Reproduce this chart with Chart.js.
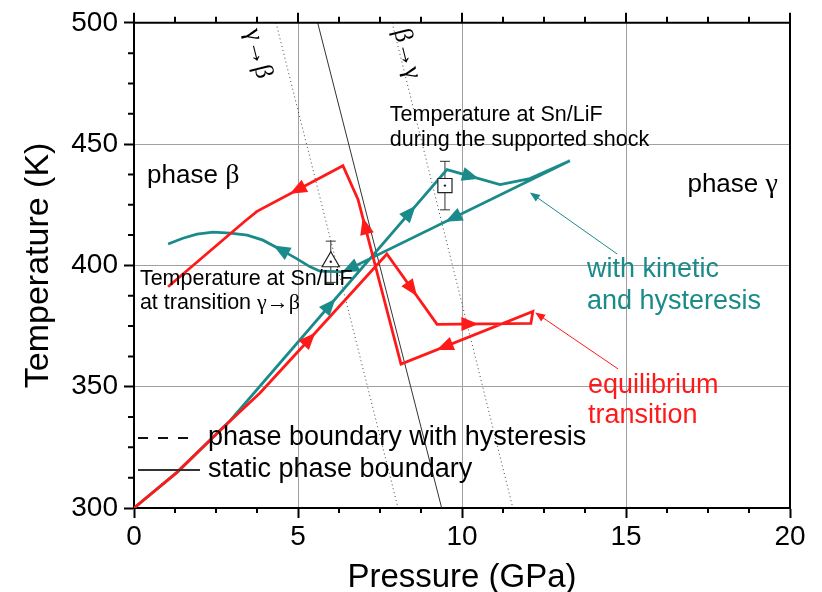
<!DOCTYPE html>
<html>
<head>
<meta charset="utf-8">
<script src="https://cdn.jsdelivr.net/npm/chart.js@4.4.1/dist/chart.umd.min.js"></script>
<style>
    body { margin: 0; background: #fff; }
    #wrap { width: 822px; height: 592px; }
</style>
</head>
<body>
<div id="wrap"><canvas id="sn-chart" width="822" height="592"></canvas></div>
<script>
const SANS = '"Liberation Sans", Arial, sans-serif';
const SERIF = '"Liberation Serif", "Times New Roman", serif';
const RED = '#ff1a1a';
const TEAL = '#1a8a8a';

// tick labels
const xTicks = [0, 5, 10, 15, 20];
const yTicks = [300, 350, 400, 450, 500];

// equilibrium transition (red path, in drawing order)
const redP = [0, 1.31, 2.62, 3.84, 5.43, 7.71, 9.24, 12.10, 12.16, 8.14, 6.83, 6.37, 3.75, 3.38, 1.04];
const redT = [300, 314.7, 331.9, 347.4, 370.8, 404.7, 375.7, 376.1, 381.0, 359.3, 427.2, 441.1, 422.3, 418.2, 391.2];
// [segment index, fraction along segment]
const redArrows = [[3, 0.95], [5, 0.5], [6, 0.35], [8, 0.67], [9, 0.84], [11, 0.53]];

// with kinetic and hysteresis (teal path)
const tealP = [0, 1.31, 2.93, 9.54, 11.16, 12.07, 13.29, 6.37, 5.67, 5.37, 4.97, 4.45, 3.93, 3.45, 2.93, 2.41, 1.92, 1.49, 1.04];
const tealT = [300, 314.7, 336.0, 439.5, 433.3, 435.8, 443.1, 397.3, 397.6, 399.4, 402.7, 406.7, 410.4, 412.5, 413.3, 413.7, 412.9, 411.2, 408.8];
const tealArrows = [[2, 0.46], [2, 0.83], [3, 0.45], [6, 0.515], [6, 0.97], [10, 0.95]];

// phase boundaries
const staticP = [5.6, 9.38];
const staticT = [500, 300];
const gammaBetaP = [4.33, 8.05];   // γ→β with hysteresis
const gammaBetaT = [500, 300];
const betaGammaP = [7.87, 11.55];  // β→γ with hysteresis
const betaGammaT = [500, 300];

// measured temperature at Sn/LiF
const triP = [6.0];
const triT = [401.5];
const triErr = [8.5];
const sqP = [9.48];
const sqT = [432.9];
const sqErr = [10];

function toXY(ps, ts) {
    return ps.map((p, i) => ({ x: p, y: ts[i] }));
}

function arrowHead(ctx, x, y, ang, len, half, color) {
    const c = Math.cos(ang), s = Math.sin(ang);
    ctx.save();
    ctx.fillStyle = color;
    ctx.beginPath();
    ctx.moveTo(x + c * len / 2, y + s * len / 2);
    ctx.lineTo(x - c * len / 2 - s * half, y - s * len / 2 + c * half);
    ctx.lineTo(x - c * len / 2 + s * half, y - s * len / 2 - c * half);
    ctx.closePath();
    ctx.fill();
    ctx.restore();
}

// text made of pieces in different fonts
function drawParts(ctx, x, y, parts, align, color) {
    let total = 0;
    parts.forEach(pt => { ctx.font = pt[2] + 'px ' + pt[1]; total += ctx.measureText(pt[0]).width; });
    let cx = align === 'right' ? x - total : (align === 'center' ? x - total / 2 : x);
    ctx.fillStyle = color || '#000';
    ctx.textBaseline = 'middle';
    ctx.textAlign = 'left';
    parts.forEach(pt => {
        ctx.font = pt[2] + 'px ' + pt[1];
        ctx.fillText(pt[0], cx, y);
        cx += ctx.measureText(pt[0]).width;
    });
}

const notes = [
    { p: 0.40, t: 437.0, align: 'left', parts: [['phase ', SANS, 26], ['β', SERIF, 28]] },
    { p: 19.63, t: 433.3, align: 'right', parts: [['phase ', SANS, 26], ['γ', SERIF, 28]] },
    { p: 7.8, t: 462.0, align: 'left', parts: [['Temperature at Sn/LiF', SANS, 21.5]] },
    { p: 7.8, t: 451.7, align: 'left', parts: [['during the supported shock', SANS, 21.5]] },
    { p: 0.18, t: 394.5, align: 'left', parts: [['Temperature at Sn/LiF', SANS, 21.5]] },
    { p: 0.18, t: 384.3, align: 'left', parts: [['at transition ', SANS, 21.5], ['γ→β', SERIF, 22]] },
    { p: 13.81, t: 398.2, align: 'left', parts: [['with kinetic', SANS, 27]], color: TEAL },
    { p: 13.81, t: 385.1, align: 'left', parts: [['and hysteresis', SANS, 27]], color: TEAL },
    { p: 13.84, t: 350.3, align: 'left', parts: [['equilibrium', SANS, 27]], color: RED },
    { p: 13.84, t: 338.0, align: 'left', parts: [['transition', SANS, 27]], color: RED }
];

// labels along the dotted boundaries
const boundaryLabels = [
    { p: 3.78, t: 487.3, text: 'γ→β' },
    { p: 8.32, t: 487.3, text: 'β→γ' }
];

// thin pointer arrows from the captions to the curves
const pointers = [
    { from: [14.73, 404.7], to: [12.07, 430.1], color: TEAL },
    { from: [14.76, 357.3], to: [12.23, 380.6], color: RED }
];

const decorPlugin = {
    id: 'decor',
    beforeDatasetsDraw(chart) {
        const ctx = chart.ctx, xs = chart.scales.x, ys = chart.scales.y;
        // error bars
        const bars = [[triP, triT, triErr], [sqP, sqT, sqErr]];
        ctx.save();
        ctx.strokeStyle = '#333';
        ctx.lineWidth = 1;
        bars.forEach(([ps, ts, es]) => {
            ps.forEach((p, i) => {
                const x = xs.getPixelForValue(p);
                const y1 = ys.getPixelForValue(ts[i] + es[i]);
                const y2 = ys.getPixelForValue(ts[i] - es[i]);
                ctx.beginPath();
                ctx.moveTo(x, y1); ctx.lineTo(x, y2);
                ctx.moveTo(x - 5, y1); ctx.lineTo(x + 5, y1);
                ctx.moveTo(x - 5, y2); ctx.lineTo(x + 5, y2);
                ctx.stroke();
            });
        });
        ctx.restore();
    },
    afterDatasetsDraw(chart) {
        const ctx = chart.ctx, xs = chart.scales.x, ys = chart.scales.y;
        const area = chart.chartArea;

        // arrowheads along the paths
        chart.data.datasets.forEach((ds, i) => {
            if (!ds.arrows) return;
            const pts = chart.getDatasetMeta(i).data;
            ds.arrows.forEach(([seg, f]) => {
                const a = pts[seg], b = pts[seg + 1];
                const x = a.x + (b.x - a.x) * f, y = a.y + (b.y - a.y) * f;
                arrowHead(ctx, x, y, Math.atan2(b.y - a.y, b.x - a.x), 17, 7, ds.borderColor);
            });
        });

        // centre dots of the markers
        ctx.save();
        ctx.fillStyle = '#222';
        [[triP, triT], [sqP, sqT]].forEach(([ps, ts]) => {
            ps.forEach((p, i) => {
                ctx.beginPath();
                ctx.arc(xs.getPixelForValue(p), ys.getPixelForValue(ts[i]), 1.2, 0, Math.PI * 2);
                ctx.fill();
            });
        });
        ctx.restore();

        // pointer arrows
        pointers.forEach(pt => {
            const x1 = xs.getPixelForValue(pt.from[0]), y1 = ys.getPixelForValue(pt.from[1]);
            const x2 = xs.getPixelForValue(pt.to[0]), y2 = ys.getPixelForValue(pt.to[1]);
            const ang = Math.atan2(y2 - y1, x2 - x1);
            ctx.save();
            ctx.strokeStyle = pt.color;
            ctx.lineWidth = 1;
            ctx.beginPath();
            ctx.moveTo(x1, y1);
            ctx.lineTo(x2 - Math.cos(ang) * 6, y2 - Math.sin(ang) * 6);
            ctx.stroke();
            ctx.restore();
            arrowHead(ctx, x2 - Math.cos(ang) * 5, y2 - Math.sin(ang) * 5, ang, 10, 4, pt.color);
        });

        // captions
        ctx.save();
        notes.forEach(n => {
            drawParts(ctx, xs.getPixelForValue(n.p), ys.getPixelForValue(n.t), n.parts, n.align, n.color);
        });
        ctx.restore();

        // rotated boundary labels, following the dotted lines
        const slope = Math.atan2(
            ys.getPixelForValue(gammaBetaT[1]) - ys.getPixelForValue(gammaBetaT[0]),
            xs.getPixelForValue(gammaBetaP[1]) - xs.getPixelForValue(gammaBetaP[0]));
        boundaryLabels.forEach(b => {
            ctx.save();
            ctx.translate(xs.getPixelForValue(b.p), ys.getPixelForValue(b.t));
            ctx.rotate(slope);
            ctx.font = '26px ' + SERIF;
            ctx.fillStyle = '#000';
            ctx.textAlign = 'center';
            ctx.textBaseline = 'middle';
            ctx.fillText(b.text, 0, 0);
            ctx.restore();
        });

        // legend inside the plot
        ctx.save();
        ctx.lineWidth = 2;
        ctx.strokeStyle = '#111';
        ctx.setLineDash([10, 10]);
        ctx.beginPath();
        ctx.moveTo(area.left + 4, area.bottom - 70);
        ctx.lineTo(area.left + 64, area.bottom - 70);
        ctx.stroke();
        ctx.setLineDash([]);
        ctx.strokeStyle = '#333';
        ctx.beginPath();
        ctx.moveTo(area.left + 4, area.bottom - 38);
        ctx.lineTo(area.left + 66, area.bottom - 38);
        ctx.stroke();
        ctx.restore();
        drawParts(ctx, area.left + 74, area.bottom - 70, [['phase boundary with hysteresis', SANS, 27]], 'left');
        drawParts(ctx, area.left + 74, area.bottom - 38, [['static phase boundary', SANS, 27]], 'left');
    },
    afterDraw(chart) {
        const ctx = chart.ctx, xs = chart.scales.x, ys = chart.scales.y;
        const area = chart.chartArea;
        ctx.save();
        ctx.strokeStyle = '#000';
        ctx.lineWidth = 2;
        // top and right frame
        ctx.beginPath();
        ctx.moveTo(area.left - 1, area.top);
        ctx.lineTo(area.right, area.top);
        ctx.lineTo(area.right, area.bottom + 1);
        ctx.stroke();
        // minor ticks (bottom, top) and major ticks on top
        ctx.beginPath();
        for (let v = xs.min; v <= xs.max + 1e-6; v += 1.25) {
            const x = xs.getPixelForValue(v);
            const major = Math.abs(v % 5) < 1e-6;
            if (!major) {
                ctx.moveTo(x, area.bottom); ctx.lineTo(x, area.bottom + 5);
            }
            ctx.moveTo(x, area.top); ctx.lineTo(x, area.top - (major ? 10 : 6));
        }
        for (let v = ys.min; v <= ys.max + 1e-6; v += 12.5) {
            if (Math.abs(v % 50) < 1e-6) continue;
            const y = ys.getPixelForValue(v);
            ctx.moveTo(area.left, y); ctx.lineTo(area.left - 6, y);
        }
        ctx.stroke();
        ctx.restore();
    }
};

function gridColor(ctx) {
    const v = ctx.tick ? ctx.tick.value : null;
    const s = ctx.scale;
    return (v === s.min || v === s.max) ? 'rgba(0,0,0,0)' : '#a0a0a0';
}

function renderChart() {
    const ctx = document.getElementById('sn-chart').getContext('2d');
    new Chart(ctx, {
        type: 'scatter',
        data: {
            datasets: [
                {
                    label: 'shock',
                    data: toXY(sqP, sqT),
                    pointStyle: 'rect',
                    pointRadius: 10,
                    borderColor: '#222',
                    backgroundColor: '#fff',
                    borderWidth: 1.2
                },
                {
                    label: 'transition',
                    data: toXY(triP, triT),
                    pointStyle: 'triangle',
                    pointRadius: 10,
                    borderColor: '#222',
                    backgroundColor: '#fff',
                    borderWidth: 1.2
                },
                {
                    label: 'equilibrium transition',
                    data: toXY(redP, redT),
                    showLine: true,
                    borderColor: RED,
                    borderWidth: 2.8,
                    pointRadius: 0,
                    arrows: redArrows
                },
                {
                    label: 'with kinetic and hysteresis',
                    data: toXY(tealP, tealT),
                    showLine: true,
                    borderColor: TEAL,
                    borderWidth: 2.8,
                    pointRadius: 0,
                    arrows: tealArrows
                },
                {
                    label: 'static phase boundary',
                    data: toXY(staticP, staticT),
                    showLine: true,
                    borderColor: '#333',
                    borderWidth: 1,
                    pointRadius: 0
                },
                {
                    label: 'γ→β',
                    data: toXY(gammaBetaP, gammaBetaT),
                    showLine: true,
                    borderColor: '#444',
                    borderWidth: 1,
                    borderDash: [1, 3],
                    pointRadius: 0
                },
                {
                    label: 'β→γ',
                    data: toXY(betaGammaP, betaGammaT),
                    showLine: true,
                    borderColor: '#444',
                    borderWidth: 1,
                    borderDash: [1, 3],
                    pointRadius: 0
                }
            ]
        },
        options: {
            responsive: false,
            animation: false,
            layout: { padding: { top: 19, right: 32, left: 0, bottom: 0 } },
            plugins: {
                legend: { display: false },
                tooltip: { enabled: false }
            },
            scales: {
                x: {
                    type: 'linear',
                    min: 0,
                    max: 20,
                    afterBuildTicks: s => { s.ticks = xTicks.map(v => ({ value: v })); },
                    afterFit: s => { s.height = 84; },
                    ticks: { font: { family: SANS, size: 28 }, color: '#000', padding: 2, maxRotation: 0, autoSkip: false },
                    grid: { color: gridColor, lineWidth: 1, tickLength: 10, tickColor: '#000', tickWidth: 2 },
                    border: { color: '#000', width: 2 },
                    title: { display: true, text: 'Pressure (GPa)', font: { family: SANS, size: 33, lineHeight: 0.85 }, color: '#000', padding: { top: 0, bottom: 0 } }
                },
                y: {
                    type: 'linear',
                    min: 300,
                    max: 500,
                    afterBuildTicks: s => { s.ticks = yTicks.map(v => ({ value: v })); },
                    afterFit: s => { s.width = 134; },
                    ticks: { font: { family: SANS, size: 28 }, color: '#000', padding: 6, autoSkip: false },
                    grid: { color: gridColor, lineWidth: 1, tickLength: 10, tickColor: '#000', tickWidth: 2 },
                    border: { color: '#000', width: 2 },
                    title: { display: true, text: 'Temperature (K)', font: { family: SANS, size: 34 }, color: '#000', padding: { top: 18, bottom: 0 } }
                }
            }
        },
        plugins: [decorPlugin]
    });
}

renderChart();
</script>
</body>
</html>
